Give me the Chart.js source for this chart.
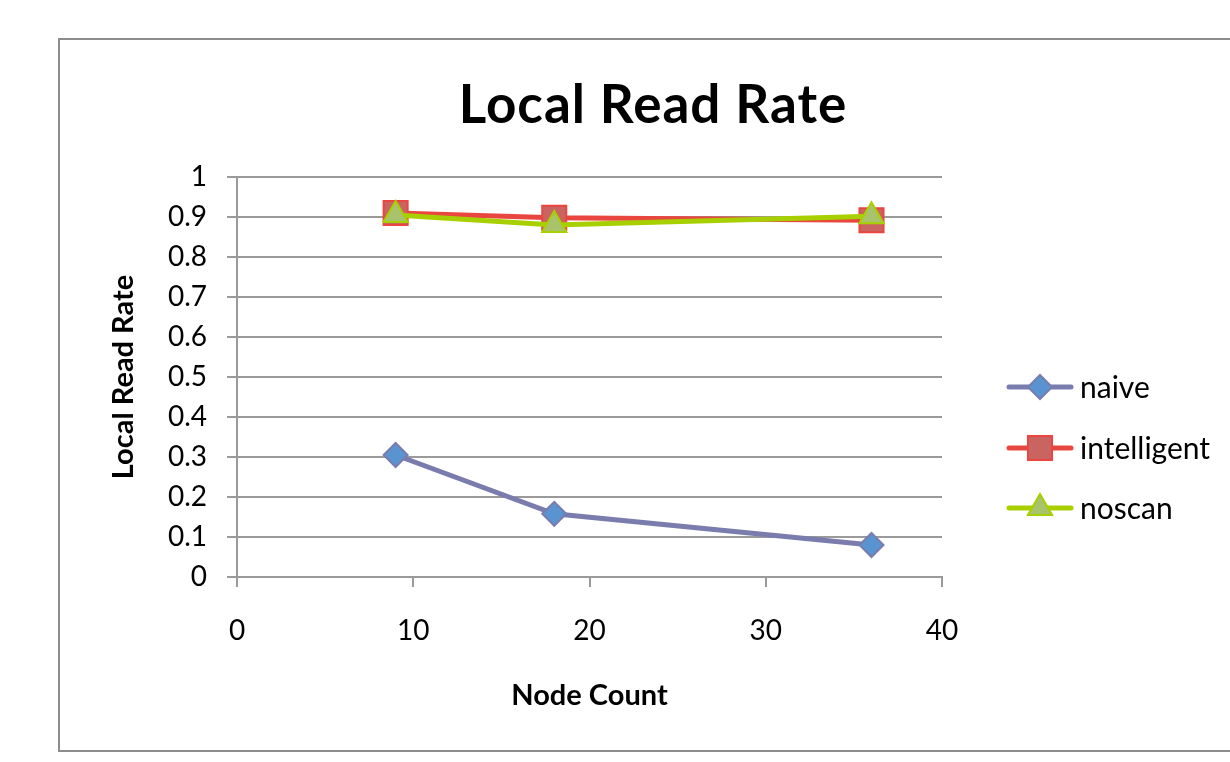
<!DOCTYPE html>
<html>
<head>
<meta charset="utf-8">
<script src="https://cdn.jsdelivr.net/npm/chart.js@4/dist/chart.umd.min.js"></script>
<style>
  html, body { margin: 0; padding: 0; background: #fff; }
  #wrap { width: 1230px; height: 762px; }
</style>
</head>
<body>
<div id="wrap"><canvas id="chart" width="1230" height="762"></canvas></div>
<script>
// values
const nodeCounts = [9, 18, 36];
const naive = [0.305, 0.158, 0.08];
const intelligent = [0.91, 0.898, 0.892];
const noscan = [0.905, 0.88, 0.902];
const seriesNames = ["naive", "intelligent", "noscan"];
const chartTitle = "Local Read Rate";

const FONT = "Lato, 'Open Sans', sans-serif";
const GRID = "#9a9a9a";

const toPoints = (vals) => vals.map((v, i) => ({ x: nodeCounts[i], y: v }));

// white page, grey outer frame and the big title (centred on the frame, not the plot)
const framePlugin = {
  id: "frame",
  beforeDraw(chart) {
    const ctx = chart.ctx;
    ctx.save();
    ctx.fillStyle = "#fff";
    ctx.fillRect(0, 0, chart.width, chart.height);
    ctx.strokeStyle = "#8c8c8c";
    ctx.lineWidth = 2;
    ctx.strokeRect(59, 39, 1200, 712);
    ctx.fillStyle = "#000";
    ctx.font = "bold 53px " + FONT;
    if ("letterSpacing" in ctx) ctx.letterSpacing = "1px";
    ctx.textAlign = "center";
    ctx.textBaseline = "alphabetic";
    ctx.fillText(chartTitle, 653, 123);
    ctx.restore();
  },
};

function drawMarker(ctx, style, r, x, y) {
  ctx.beginPath();
  if (style === "rectRot") {
    ctx.moveTo(x, y - r);
    ctx.lineTo(x + r, y);
    ctx.lineTo(x, y + r);
    ctx.lineTo(x - r, y);
  } else if (style === "rect") {
    const s = r * Math.SQRT1_2;
    ctx.rect(x - s, y - s, 2 * s, 2 * s);
  } else {
    const h = r * 1.5, w = r * Math.sqrt(3) / 2;
    ctx.moveTo(x, y - r);
    ctx.lineTo(x + w, y + h - r);
    ctx.lineTo(x - w, y + h - r);
  }
  ctx.closePath();
  ctx.fill();
  ctx.stroke();
}

// legend: line with marker, like the spreadsheet one
const sideLegend = {
  id: "sideLegend",
  afterDraw(chart) {
    const ctx = chart.ctx;
    const rows = [387, 448, 508];
    ctx.save();
    chart.data.datasets.forEach((ds, i) => {
      const y = rows[i];
      ctx.strokeStyle = ds.borderColor;
      ctx.lineWidth = 5;
      ctx.lineCap = "round";
      ctx.beginPath();
      ctx.moveTo(1009, y);
      ctx.lineTo(1071, y);
      ctx.stroke();
      ctx.fillStyle = ds.pointBackgroundColor;
      ctx.strokeStyle = ds.pointBorderColor;
      ctx.lineWidth = 2;
      drawMarker(ctx, ds.pointStyle, ds.pointRadius, 1040, y);
      ctx.fillStyle = "#000";
      ctx.font = "30px " + FONT;
      ctx.textBaseline = "middle";
      ctx.fillText(ds.label, 1080, y + 1);
    });
    ctx.restore();
  },
};

new Chart(document.getElementById("chart"), {
  type: "line",
  data: {
    datasets: [
      {
        label: seriesNames[0],
        data: toPoints(naive),
        borderColor: "#7a7cae",
        borderWidth: 5,
        pointStyle: "rectRot",
        pointRadius: 12,
        pointBackgroundColor: "#5a94d0",
        pointBorderColor: "#7a7cae",
        pointBorderWidth: 2,
        order: 2,
      },
      {
        label: seriesNames[1],
        data: toPoints(intelligent),
        borderColor: "#e8463f",
        borderWidth: 5,
        pointStyle: "rect",
        pointRadius: 17,
        pointBackgroundColor: "#c96461",
        pointBorderColor: "#e8463f",
        pointBorderWidth: 2,
        order: 1,
      },
      {
        label: seriesNames[2],
        data: toPoints(noscan),
        borderColor: "#a8d000",
        borderWidth: 5,
        pointStyle: "triangle",
        pointRadius: 14,
        pointBackgroundColor: "#a8c36c",
        pointBorderColor: "#a8d000",
        pointBorderWidth: 2,
        order: 0,
      },
    ],
  },
  options: {
    responsive: false,
    animation: false,
    layout: { padding: { left: 106, right: 288, top: 177, bottom: 49 } },
    plugins: {
      legend: { display: false },
      tooltip: { enabled: false },
      title: { display: false },
    },
    scales: {
      x: {
        type: "linear",
        min: 0,
        max: 40,
        ticks: {
          stepSize: 10,
          color: "#000",
          padding: 27,
          font: { family: FONT, size: 28 },
        },
        grid: { drawOnChartArea: false, drawTicks: true, tickLength: 10, color: GRID, lineWidth: 2 },
        border: { color: GRID, width: 2 },
        title: {
          display: true,
          text: "Node Count",
          color: "#000",
          font: { family: FONT, size: 29, weight: "bold" },
          padding: { top: 20, bottom: 0 },
        },
        afterFit: (scale) => { scale.height = 136; },
      },
      y: {
        min: 0,
        max: 1,
        ticks: {
          stepSize: 0.1,
          color: "#000",
          padding: 20,
          font: { family: FONT, size: 28 },
          callback: (v) => String(Number(v.toFixed(1))),
        },
        grid: { color: GRID, lineWidth: 2, tickLength: 10 },
        border: { color: GRID, width: 2 },
        title: {
          display: true,
          text: "Local Read Rate",
          color: "#000",
          font: { family: FONT, size: 29, weight: "bold" },
          padding: { top: 0, bottom: 10 },
        },
        afterFit: (scale) => { scale.width = 131; },
      },
    },
  },
  plugins: [framePlugin, sideLegend],
});
</script>
</body>
</html>
